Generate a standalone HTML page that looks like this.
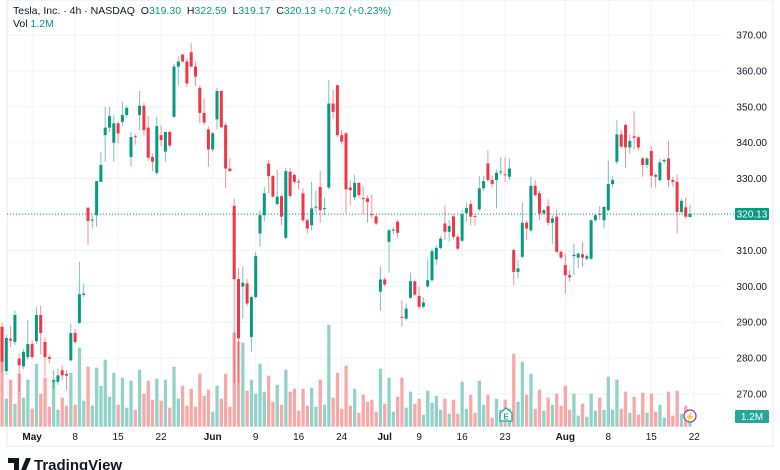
<!DOCTYPE html>
<html><head><meta charset="utf-8"><style>
html,body{margin:0;padding:0;background:#fff;width:780px;height:470px;overflow:hidden;font-family:"Liberation Sans",sans-serif}
#hdr{position:absolute;left:13px;top:5px;font-size:10.5px;color:#131722;line-height:13px}
#hdr .v{color:#089981}
</style></head><body>
<svg id="chart" width="780" height="470" style="position:absolute;left:0;top:0" xmlns="http://www.w3.org/2000/svg">
<rect x="7" y="0" width="766" height="446" fill="none" stroke="#e8eaef" stroke-width="1"/>
<g id="grid"></g>
<g id="vols"></g>
<g id="candles"></g>
<g id="axes"></g>
</svg>
<div id="hdr">Tesla, Inc. · 4h · NASDAQ &nbsp;O<span class="v">319.30</span> &nbsp;H<span class="v">322.59</span> &nbsp;L<span class="v">319.17</span> &nbsp;C<span class="v">320.13</span> <span class="v">+0.72 (+0.23%)</span><br>Vol <span class="v">1.2M</span></div>
<script>
const openP=[288.7,276.4,285.4,284.5,279.9,277.7,280.3,283.9,284.7,292,284.5,280.3,273.4,273.4,276.6,275.6,279.4,287,289.8,297.6,321.9,318.3,319.8,329.1,342.1,344.2,340,345.4,345.8,347.7,336,341.8,347.7,350.3,344.2,336,331.6,342.1,337.5,343,347.2,361.2,364.6,362.6,365.2,361.2,355.3,348.3,343.7,338.1,346.5,354.4,344.9,332.8,322.4,302,299.9,300.8,285.9,297,314.7,319.8,334.2,330.7,322.9,325.1,313.5,331.9,331,329.2,325.9,318.4,317,322,327.7,321.5,327.5,350.9,356,342.1,342.6,327.5,324.8,328.8,324.6,324.5,320.1,319.5,298.5,301.9,312.4,315.5,318,291.5,291,296.8,301.4,297.3,294.3,300,301.7,307.5,310.7,317.5,315.2,319.5,313.8,312.7,320.4,322.9,319.6,321.4,327.3,334.2,329.6,329.6,331.7,331.2,330.5,310.1,304,308.2,317.7,315.6,328,325.9,320.3,322.3,317.7,319.4,309.6,305.9,303.1,308.4,308,308.9,307.7,307.7,318.4,320.2,318.4,321.2,328.5,334.7,342.3,344.9,338.7,341.8,341.5,335.6,333.8,337.7,331,329.6,334.8,335.6,329.6,329.1,320.7,322,319.3];
const closeP=[279,285.6,284.9,292,278,281.7,283.9,280.3,292,287,280.3,279.8,273.8,275.2,275.2,275.1,287,284.5,297.8,298,318.2,318.6,329.3,333.8,344.2,347.4,345.4,342.6,347.7,349.7,341.6,341.6,350.3,343.5,335.8,334.7,344.6,340.7,343,339.2,361.2,362.6,362.6,356.5,361.2,358.4,348.3,345.6,338.1,342.6,354.4,344.3,332.8,332.1,302,285.5,301,295.2,297,308.4,319.8,325.9,330.7,325,325,319.4,332.1,325.2,329.1,329,318.4,316.1,321.7,322.2,321.2,321.8,350.9,348.6,342.1,340.3,327,326.8,328.8,325.4,324.4,323.5,319.9,317.5,301.9,300.5,315.6,315.8,314.9,291.3,293.8,301.4,297.7,294.3,295.5,301.7,309.8,310.7,313.3,315.2,316.8,313.8,310.5,320.1,321.8,319.4,319.5,327.3,329.3,329.6,328.5,331.6,332,331,332.8,304,305,317.7,316.1,328,325.4,320.3,321.2,317.7,318.9,309.6,308,303.1,302.5,308.8,309.1,308,308.4,318.4,319.8,320,322.1,328.5,329.6,342.3,338.9,338.7,340.5,341.4,338.7,333.8,335.6,330.8,330.5,334.5,335.2,329.6,329.1,320.7,323.8,319.4,320.13];
const highP=[290,286.4,289,293.2,281.3,282.5,290.7,285,294.3,294.6,285.9,281,276.6,277,278,276.5,289.6,288,306.8,300.8,322,319.8,329.4,337.4,350,350,347.7,346,351.5,350.3,343,342.5,354.4,351,347.4,337,347.2,344.9,343,343.3,362,364,364.6,363.5,367.7,362.6,356,352.4,344.5,343,355.3,354.5,345.5,335.6,324.5,305,305.4,302,297.5,309.5,321.2,327.7,335.2,331,332.4,325.5,333,333,331.5,330,327.3,319,329.1,326.7,332.2,324.6,357.5,354.7,356.2,343.5,343,329.6,331,329,327.7,325.4,325.6,320,305.6,302.5,316,316.5,318.5,296.1,295.2,303.8,301.6,299.8,297,307.7,310.5,311.5,314,322.6,318.5,320,314.5,321.2,323.3,324,320,330.7,330.7,337.9,330.8,332.5,335.9,335.9,335.6,310.5,307.3,323.5,318.4,330.5,329.6,326.5,321.6,324.2,319.8,321.2,310,309.1,304.5,311.9,309.5,312.4,309,318.6,320.3,322.3,322.3,335,330.7,346.3,343.5,345.4,342.3,348.8,342,336,336,339.1,331.5,335.5,335.6,340.5,330.5,331.1,324.5,324.7,322.6];
const lowP=[276,275.4,283,283.6,270.6,277,279.5,279.8,284,281,274.8,278.5,271.5,272.5,274,271,279,284,289.5,297,311.5,316.1,316.6,329,334.7,343,334.7,339.8,344.5,347,333.3,339.5,343.5,342,335,332,331,339,334.7,338.6,347,356,362.5,355.5,361,355.8,345.4,345,333.3,337.5,343.7,344,327.3,331.8,273,273,291,294.5,281.7,296.5,311,318,325.9,324.5,322.5,317,313.1,324.5,328.5,327,317.8,314.7,315.5,320.5,317.7,319.8,327,346.6,341.5,339.5,320.3,322.6,324,324.8,320.1,317.7,319,317,293.2,300,303.8,314.5,313.5,288.7,290.5,296.5,297.3,293.6,293.8,299.6,301.2,306,310.3,312.9,312.5,313,310,312.3,318,317,317,321,326.6,329,327.5,321.7,331,329,329.6,300.3,302.2,307.7,312.9,315,325,318.5,319.8,317,311.7,309.3,307.5,298,301.3,303.1,305,305.4,307.3,307.3,318,318.5,316.1,321,327.5,334,338.5,333,337,338,337.9,330.5,332.9,327.5,327.5,329,334,327.7,327.7,314.7,320.3,318.8,319.17];
const volume=[100,28,47,23,53,29,47,18,63,33,49,20,47,17,29,21,54,22,79,26,60,21,59,41,67,30,54,22,49,19,46,17,57,33,46,27,48,26,47,19,60,28,41,21,38,20,53,31,37,15,41,28,53,20,94,85,84,36,47,33,63,35,51,25,42,22,57,35,38,16,38,21,39,20,47,22,102,29,54,18,61,21,38,14,32,25,27,15,58,23,49,15,30,49,19,35,23,28,12,36,24,31,17,28,13,27,13,45,18,32,14,46,22,32,9,28,17,27,18,73,25,65,32,53,18,37,16,29,22,33,21,41,17,33,11,23,10,33,16,29,17,50,17,47,18,35,14,30,12,34,14,33,15,22,9,35,11,36,13,21,13];
const priceTicks=[370,360,350,340,330,320,310,300,290,280,270];
const dateLabels=["May","8","15","22","Jun","9","16","24","Jul","9","16","23","Aug","8","15","22"];
const dateIdx=[7,17,27,37,49,59,69,79,89,97,107,117,131,141,151,161];
const lastPrice=320.13;

const NS="http://www.w3.org/2000/svg";
const X0=2,DX=4.3;
function xs(i){return X0+i*DX;}
function ys(p){return 214.5-(p-320)*3.59;}
const VB=426.7;
function vh(v){return v*1.0;}
function mk(tag,attrs,parent){const e=document.createElementNS(NS,tag);for(const k in attrs)e.setAttribute(k,attrs[k]);parent.appendChild(e);return e;}
const grid=document.getElementById('grid'),vols=document.getElementById('vols'),cg=document.getElementById('candles'),ax=document.getElementById('axes');
priceTicks.forEach(p=>{
  const l=mk('line',{x1:7,x2:722,y1:ys(p),y2:ys(p),stroke:'#f0f3fa','stroke-width':1},grid);
  
  
  const t=mk('text',{x:767,y:ys(p)+3.5,'font-size':10,fill:'#131722','text-anchor':'end','font-family':'Liberation Sans, sans-serif'},ax);
  t.textContent=p.toFixed(2);
  
  
});
dateLabels.forEach((d,k)=>{
  const x=xs(dateIdx[k]);
  const l=mk('line',{x1:x,x2:x,y1:0,y2:428,stroke:'#f0f3fa','stroke-width':1},grid);
  
  
  const t=mk('text',{x:x,y:440,'font-size':10,fill:'#131722','text-anchor':'middle','font-family':'Liberation Sans, sans-serif','font-weight':(isNaN(d)?'bold':'normal')},ax);
  t.textContent=d;
  
  
});
volume.forEach((v,i)=>{
  const up=closeP[i]>=openP[i];
  const r=mk('rect',{x:xs(i)-1.6,y:VB-vh(v),width:3.3,height:vh(v),fill:up?'#92d2c8':'#f7a9a7'},vols);
  
  
});
openP.forEach((o,i)=>{
  const c=closeP[i],up=c>=o,col=up?'#089981':'#f23645';
  const x=xs(i);
  const w=mk('line',{x1:x,x2:x,y1:ys(highP[i]),y2:ys(lowP[i]),stroke:col,'stroke-width':1,opacity:0.55},cg);
  
  
  const top=ys(Math.max(o,c)),bot=ys(Math.min(o,c));
  const b=mk('rect',{x:x-1.5,y:top,width:3,height:Math.max(1,bot-top),fill:col},cg);
  
  
});
const ll=mk('line',{x1:7,x2:735,y1:ys(lastPrice),y2:ys(lastPrice),stroke:'#089981','stroke-width':1,'stroke-dasharray':'1 2'},ax);


const pb=mk('rect',{x:735,y:ys(lastPrice)-6,width:34,height:12,rx:1,fill:'#089981'},ax);


const pt=mk('text',{x:752,y:ys(lastPrice)+3.5,'font-size':10,fill:'#fff','text-anchor':'middle'},ax);
pt.textContent=lastPrice.toFixed(2);


const vb=mk('rect',{x:735,y:410,width:34,height:13,rx:1,fill:'#26a69a'},ax);


const vt=mk('text',{x:752,y:420,'font-size':10,fill:'#fff','text-anchor':'middle'},ax);
vt.textContent='1.2M';


const eb=mk('path',{d:'M500 421 L500 413 L506 408 L512 413 L512 421 Z',fill:'#fff',stroke:'#26a69a','stroke-width':1.3},ax);


const et=mk('text',{x:506,y:419.5,'font-size':8,fill:'#26a69a','text-anchor':'middle','font-weight':'bold'},ax);
et.textContent='E';


const lc=mk('circle',{cx:690,cy:416,r:6,fill:'#fff',stroke:'#9c27b0','stroke-width':1.2},ax);


const lt=mk('text',{x:690,y:420,'font-size':9,fill:'#9c27b0','text-anchor':'middle'},ax);
lt.textContent='⚡';


const logo=mk('text',{x:34,y:470,'font-size':15,fill:'#131722','font-weight':'bold'},ax);
logo.textContent='TradingView';


const li=mk('path',{d:'M8 458 H19 V470 H14 V463 H8 Z M21 470 L26 458 H31 L26 470 Z',fill:'#131722'},ax);


</script>
</body></html>
